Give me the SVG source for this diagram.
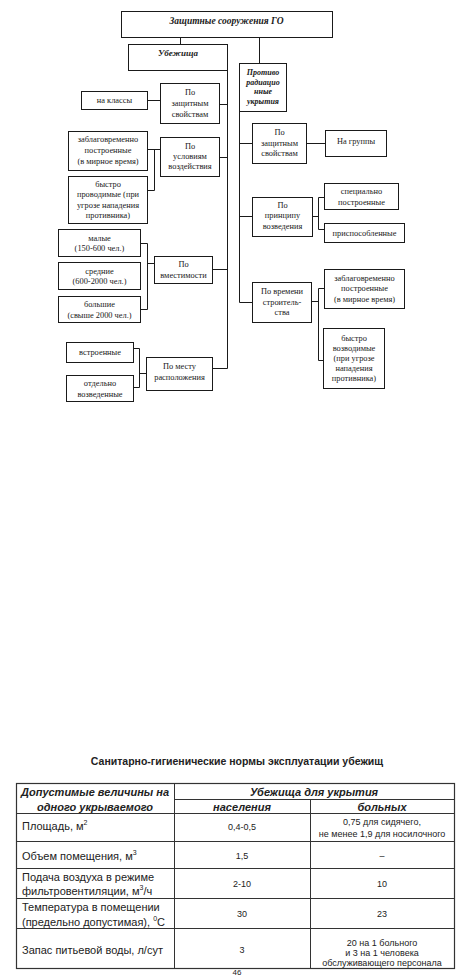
<svg xmlns="http://www.w3.org/2000/svg" width="474" height="976" viewBox="0 0 474 976">
<style>
.b{fill:#fff;stroke:#1a1a1a;stroke-width:1}
.c{fill:none;stroke:#1a1a1a;stroke-width:1}
.t{font-family:"Liberation Serif",serif;font-size:8.4px;fill:#1a1a1a;text-anchor:middle;dominant-baseline:central}
.bi{font-weight:bold;font-style:italic;font-size:8px}
.s{font-family:"Liberation Sans",Arial,sans-serif;fill:#222;dominant-baseline:central}
.r{font-size:11px}
.m{text-anchor:middle}
.h{font-weight:bold;font-style:italic;font-size:11px;text-anchor:middle}
.sm{font-size:9px;text-anchor:middle}
.g{stroke:#333;stroke-width:1;fill:none}
</style>
<rect width="474" height="976" fill="#fff"/>
<g id="connectors" class="c">
<path d="M180.5 37 V44"/>
<path d="M259.5 37 V63"/>
<path d="M227.5 70 V368.5 H212"/>
<path d="M219 104.5 H227.5"/>
<path d="M219 157.5 H227.5"/>
<path d="M212 269.5 H227.5"/>
<path d="M147 100.5 H160"/>
<path d="M147 149.5 H160 M154.5 149.5 V190.5 H147"/>
<path d="M140 243.5 H147.5 V309.5 H140 M147.5 263.5 H154"/>
<path d="M133 348.5 H139.5 V387.5 H133 M139.5 373.5 H146"/>
<path d="M239.5 111 V302.5 H252"/>
<path d="M239.5 143.5 H252 M306 143.5 H325"/>
<path d="M239.5 216.5 H252 M312 216.5 H318.5 M324 197.5 H318.5 V229.5 H324"/>
<path d="M311 301.5 H318.5 M324 288.5 H318.5 V360.5 H323"/>
</g>
<g id="n-title"><rect class="b" x="121.5" y="11.5" width="211" height="26"/><text class="t bi" x="226.5" y="21" style="font-size:9.5px">Защитные сооружения ГО</text></g>
<g id="n-ubezh"><rect class="b" x="128.5" y="44.5" width="99" height="26"/><text class="t bi" x="178" y="52.5" style="font-size:9px">Убежища</text></g>
<g id="n-protivo"><rect class="b" x="239.5" y="63.5" width="47" height="48"/>
<text class="t bi" x="263" y="72.5">Противо</text><text class="t bi" x="263" y="82">радиацио</text><text class="t bi" x="263" y="91.5">нные</text><text class="t bi" x="263" y="101">укрытия</text></g>
<g id="n-lzasch"><rect class="b" x="160.5" y="83.5" width="59" height="40"/>
<text class="t" x="190" y="92.5">По</text><text class="t" x="190" y="103.5">защитным</text><text class="t" x="190" y="114">свойствам</text></g>
<g id="n-klassy"><rect class="b" x="81.5" y="91.5" width="66" height="18"/><text class="t" x="114.5" y="100.5">на классы</text></g>
<g id="n-uslov"><rect class="b" x="160.5" y="137.5" width="59" height="39"/>
<text class="t" x="190" y="146">По</text><text class="t" x="190" y="156">условиям</text><text class="t" x="190" y="166">воздействия</text></g>
<g id="n-zablag-l"><rect class="b" x="68.5" y="131.5" width="79" height="39"/>
<text class="t" x="108" y="139.5">заблаговременно</text><text class="t" x="108" y="150">построенные</text><text class="t" x="108" y="161">(в мирное время)</text></g>
<g id="n-bystro-l"><rect class="b" x="68.5" y="176.5" width="79" height="47"/>
<text class="t" x="108" y="184">быстро</text><text class="t" x="108" y="194.5">проводимые (при</text><text class="t" x="108" y="205">угрозе нападения</text><text class="t" x="108" y="215.5">противника)</text></g>
<g id="n-malye"><rect class="b" x="58.5" y="229.5" width="82" height="27"/>
<text class="t" x="99.5" y="238">малые</text><text class="t" x="99.5" y="248.5">(150-600 чел.)</text></g>
<g id="n-srednie"><rect class="b" x="58.5" y="262.5" width="82" height="27"/>
<text class="t" x="99.5" y="271">средние</text><text class="t" x="99.5" y="281.5">(600-2000 чел.)</text></g>
<g id="n-bolshie"><rect class="b" x="58.5" y="296.5" width="82" height="26"/>
<text class="t" x="99.5" y="304.5">большие</text><text class="t" x="99.5" y="315">(свыше 2000 чел.)</text></g>
<g id="n-vmest"><rect class="b" x="154.5" y="256.5" width="58" height="27"/>
<text class="t" x="183.5" y="264">По</text><text class="t" x="183.5" y="275">вместимости</text></g>
<g id="n-vstroen"><rect class="b" x="66.5" y="342.5" width="67" height="20"/><text class="t" x="100" y="352.5">встроенные</text></g>
<g id="n-otdelno"><rect class="b" x="66.5" y="375.5" width="67" height="26"/>
<text class="t" x="100" y="383.5">отдельно</text><text class="t" x="100" y="394">возведенные</text></g>
<g id="n-mestu"><rect class="b" x="146.5" y="357.5" width="66" height="33"/>
<text class="t" x="179.5" y="366">По месту</text><text class="t" x="179.5" y="377">расположения</text></g>
<g id="n-rzasch"><rect class="b" x="252.5" y="123.5" width="54" height="40"/>
<text class="t" x="279.5" y="132.5">По</text><text class="t" x="279.5" y="143">защитным</text><text class="t" x="279.5" y="153.5">свойствам</text></g>
<g id="n-gruppy"><rect class="b" x="325.5" y="130.5" width="61" height="26"/><text class="t" x="356" y="141">На группы</text></g>
<g id="n-princip"><rect class="b" x="252.5" y="197.5" width="60" height="39"/>
<text class="t" x="282.5" y="205">По</text><text class="t" x="282.5" y="215.5">принципу</text><text class="t" x="282.5" y="226.5">возведения</text></g>
<g id="n-special"><rect class="b" x="324.5" y="183.5" width="74" height="26"/>
<text class="t" x="361.5" y="191.5">специально</text><text class="t" x="361.5" y="202">построенные</text></g>
<g id="n-prispos"><rect class="b" x="324.5" y="223.5" width="80" height="19"/><text class="t" x="364.5" y="233">приспособленные</text></g>
<g id="n-vremeni"><rect class="b" x="252.5" y="282.5" width="59" height="40"/>
<text class="t" x="282" y="291.5">По времени</text><text class="t" x="282" y="302">строитель-</text><text class="t" x="282" y="312.5">ства</text></g>
<g id="n-zablag-r"><rect class="b" x="324.5" y="269.5" width="80" height="39"/>
<text class="t" x="364.5" y="278">заблаговременно</text><text class="t" x="364.5" y="288.5">построенные</text><text class="t" x="364.5" y="299">(в мирное время)</text></g>
<g id="n-bystro-r"><rect class="b" x="323.5" y="328.5" width="61" height="60"/>
<text class="t" x="354" y="338">быстро</text><text class="t" x="354" y="348">возводимые</text><text class="t" x="354" y="358.5">(при угрозе</text><text class="t" x="354" y="368.5">нападения</text><text class="t" x="354" y="378.5">противника)</text></g>

<g id="table">
<text class="s m" x="237" y="761" style="font-weight:bold;font-size:10.5px">Санитарно-гигиенические нормы эксплуатации убежищ</text>
<rect class="g" x="16.5" y="783.5" width="438" height="185" style="stroke-width:1.2"/>
<path class="g" d="M174.5 783.5 V968.5 M310.5 799.5 V968.5 M174.5 799.5 H454.5 M16.5 813.5 H454.5 M16.5 841.5 H454.5 M16.5 868.5 H454.5 M16.5 898.5 H454.5 M16.5 928.5 H454.5"/>
<text class="s h" x="95" y="792">Допустимые величины на</text>
<text class="s h" x="95" y="806.5">одного укрываемого</text>
<text class="s h" x="314" y="791.5">Убежища для укрытия</text>
<text class="s h" x="242" y="806.5">населения</text>
<text class="s h" x="382" y="806.5">больных</text>
<text class="s r" x="22" y="826">Площадь, м<tspan font-size="7" baseline-shift="super">2</tspan></text>
<text class="s r" x="22" y="855.5">Объем помещения, м<tspan font-size="7" baseline-shift="super">3</tspan></text>
<text class="s r" x="22" y="877">Подача воздуха в режиме</text>
<text class="s r" x="22" y="891">фильтровентиляции, м<tspan font-size="7" baseline-shift="super">3</tspan>/ч</text>
<text class="s r" x="22" y="907">Температура в помещении</text>
<text class="s r" x="22" y="921.5">(предельно допустимая), <tspan font-size="7" baseline-shift="super">0</tspan>С</text>
<text class="s r" x="22" y="950">Запас питьевой воды, л/сут</text>
<text class="s sm" x="242" y="827">0,4-0,5</text>
<text class="s sm" x="242" y="855.5">1,5</text>
<text class="s sm" x="242" y="884">2-10</text>
<text class="s sm" x="242" y="914">30</text>
<text class="s sm" x="242" y="950">3</text>
<text class="s sm" x="382" y="822">0,75 для сидячего,</text>
<text class="s sm" x="382" y="833.5">не менее 1,9 для носилочного</text>
<text class="s sm" x="382" y="855.5">–</text>
<text class="s sm" x="382" y="884">10</text>
<text class="s sm" x="382" y="914">23</text>
<text class="s sm" x="382" y="943">20 на 1 больного</text>
<text class="s sm" x="382" y="953">и 3 на 1 человека</text>
<text class="s sm" x="382" y="962.5">обслуживающего персонала</text>
<text class="s sm" x="237" y="972" style="font-size:8px">46</text>
</g>
</svg>
